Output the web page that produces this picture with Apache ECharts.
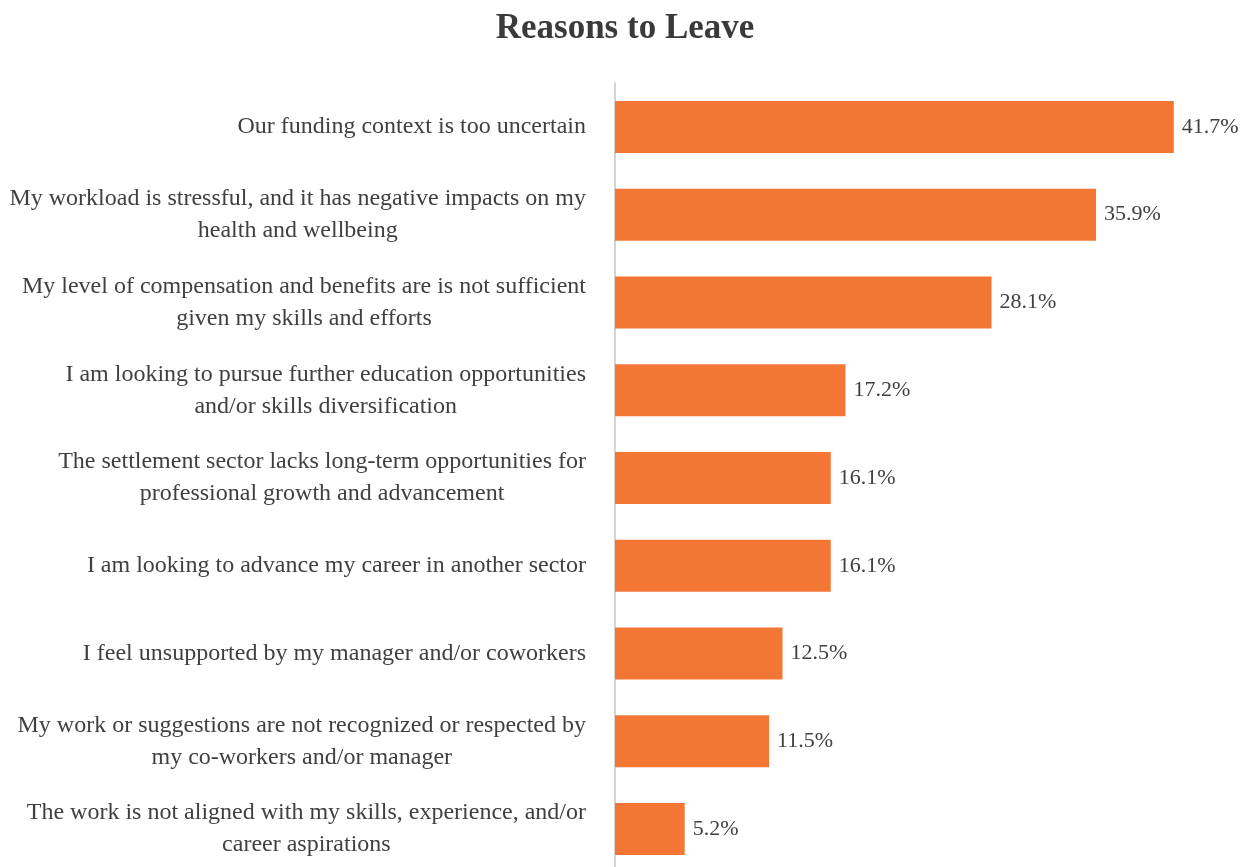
<!DOCTYPE html>
<html>
<head>
<meta charset="utf-8">
<title>Reasons to Leave</title>
<script src="https://cdn.jsdelivr.net/npm/echarts@6/dist/echarts.min.js"></script>
<style>
  html, body { margin: 0; padding: 0; background: #ffffff; overflow: hidden; }
  #chart { width: 1250px; height: 867px; }
</style>
</head>
<body>
<div id="chart"></div>
<script>
// Survey responses: reasons staff gave for planning to leave (share of respondents, %)
const reasons = [
  'Our funding context is too uncertain',
  'My workload is stressful, and it has negative impacts on my\nhealth and wellbeing',
  'My level of compensation and benefits are is not sufficient\ngiven my skills and efforts',
  'I am looking to pursue further education opportunities\nand/or skills diversification',
  'The settlement sector lacks long-term opportunities for\nprofessional growth and advancement',
  'I am looking to advance my career in another sector',
  'I feel unsupported by my manager and/or coworkers',
  'My work or suggestions are not recognized or respected by\nmy co-workers and/or manager',
  'The work is not aligned with my skills, experience, and/or\ncareer aspirations'
];
const shares = [41.7, 35.9, 28.1, 17.2, 16.1, 16.1, 12.5, 11.5, 5.2];

const serif = '"Liberation Serif", "Times New Roman", serif';
const textColor = '#404040';

const chart = echarts.init(document.getElementById('chart'));

chart.setOption({
  backgroundColor: '#ffffff',
  animation: false,
  title: {
    text: 'Reasons to Leave',
    left: 'center',
    top: 6,
    textStyle: {
      fontFamily: serif,
      fontWeight: 'bold',
      fontSize: 35,
      color: '#3a3a3a'
    }
  },
  grid: {
    left: 615,
    right: 32,
    top: 83,
    height: 790,
    outerBoundsMode: 'none'
  },
  xAxis: {
    type: 'value',
    min: 0,
    max: 45,
    show: false,
    splitLine: { show: false }
  },
  yAxis: {
    type: 'category',
    data: reasons,
    inverse: true,
    axisTick: { show: false },
    axisLine: { show: true, lineStyle: { color: '#d4d4d4', width: 2 } },
    axisLabel: {
      align: 'right',
      margin: 29,
      // each wrapped line is centred within the label block
      formatter: function (value) {
        return value.split('\n').map(function (line) {
          return '{c|' + line + '}';
        }).join('\n');
      },
      rich: {
        c: {
          align: 'center',
          fontFamily: serif,
          fontSize: 24,
          lineHeight: 32,
          color: textColor
        }
      }
    }
  },
  series: [{
    type: 'bar',
    data: shares,
    barWidth: 52,
    itemStyle: { color: '#F37634' },
    label: {
      show: true,
      position: 'right',
      distance: 8,
      fontFamily: serif,
      fontSize: 22,
      color: textColor,
      formatter: function (p) { return p.value.toFixed(1) + '%'; }
    }
  }]
});
</script>
</body>
</html>
